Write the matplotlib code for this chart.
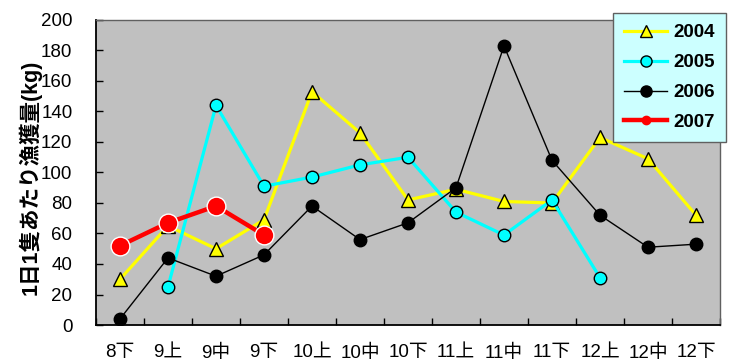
import matplotlib
matplotlib.use("Agg")
import matplotlib.pyplot as plt
from matplotlib.lines import Line2D
import numpy as np

plt.rcParams['font.family'] = ['Liberation Sans', 'Noto Sans CJK JP', 'DejaVu Sans']

categories = ["8下", "9上", "9中", "9下", "10上", "10中", "10下", "11上", "11中", "11下", "12上", "12中", "12下"]
y2004 = [30, 65, 50, 69, 153, 126, 82, 89, 81, 80, 123, 109, 72]
y2005 = [None, 25, 144, 91, 97, 105, 110, 74, 59, 82, 31, None, None]
y2006 = [4, 44, 32, 46, 78, 56, 67, 90, 183, 108, 72, 51, 53]
y2007 = [52, 67, 78, 59, None, None, None, None, None, None, None, None, None]

W, H = 736, 363
fig = plt.figure(figsize=(W/100, H/100), dpi=100)
ax = fig.add_axes([96/W, (H-325)/H, 624/W, 305/H])
ax.set_facecolor('#C0C0C0')

x = np.arange(len(categories))
def arr(v):
    return np.array([np.nan if a is None else a for a in v], dtype=float)

ax.plot(x, arr(y2004), color='#FFFF00', lw=2.3, marker='^', ms=10.5,
        mfc='#FFFF00', mec='black', mew=1.0, zorder=3)
ax.plot(x, arr(y2005), color='#00FFFF', lw=2.3, marker='o', ms=9,
        mfc='#00FFFF', mec='black', mew=1.0, zorder=3)
ax.plot(x, arr(y2006), color='black', lw=1.0, marker='o', ms=9,
        mfc='black', mec='black', zorder=4)
ax.plot(x, arr(y2007), color='#FF0000', lw=3.2, marker='o', ms=13.5,
        mfc='#FF0000', mec='white', mew=1.0, zorder=5)

ax.set_xlim(-0.5, len(categories)-0.5)
ax.set_ylim(0, 200)
ax.set_yticks(np.arange(0, 201, 20))
ax.set_xticks(np.arange(-0.5, len(categories), 1))
ax.set_xticklabels([])
ax.set_xticks(x, minor=True)
ax.set_xticklabels(categories, minor=True, fontsize=13.5)
ax.tick_params(axis='x', which='minor', length=0, pad=14)
ax.tick_params(axis='x', which='major', direction='in', length=5, width=1)
ax.tick_params(axis='y', direction='in', length=5, width=1, labelsize=13.5, pad=17)

for s in ['left', 'bottom']:
    ax.spines[s].set_color('black')
    ax.spines[s].set_linewidth(1.3)
for s in ['top', 'right']:
    ax.spines[s].set_color('#606060')
    ax.spines[s].set_linewidth(1.0)

fig.text(30/W, (H-177)/H, "1日1隻あたり漁獲量(kg)", rotation=90,
         fontsize=15.5, fontweight='bold', ha='center', va='center')

handles = [
    Line2D([], [], color='#FFFF00', lw=2.3, marker='^', ms=9, mfc='#FFFF00', mec='black', mew=1.0),
    Line2D([], [], color='#00FFFF', lw=2.3, marker='o', ms=8, mfc='#00FFFF', mec='black', mew=1.0),
    Line2D([], [], color='black', lw=1.0, marker='o', ms=8, mfc='black', mec='black'),
    Line2D([], [], color='#FF0000', lw=3.2, marker='o', ms=6, mfc='#FF0000', mec='#FF0000'),
]
leg = fig.legend(handles, ["2004", "2005", "2006", "2007"], loc='upper left',
                 bbox_to_anchor=(613/W, 1-13/H), borderaxespad=0, frameon=True, fancybox=False,
                 prop={'weight': 'bold', 'size': 13.5}, handlelength=2.3,
                 labelspacing=0.68, borderpad=0.6, handletextpad=0.3)
fr = leg.get_frame()
fr.set_facecolor('#CCFFFF')
fr.set_edgecolor('#606060')
fr.set_linewidth(1.0)
fr.set_alpha(1)

fig.savefig("out.png", dpi=100)
